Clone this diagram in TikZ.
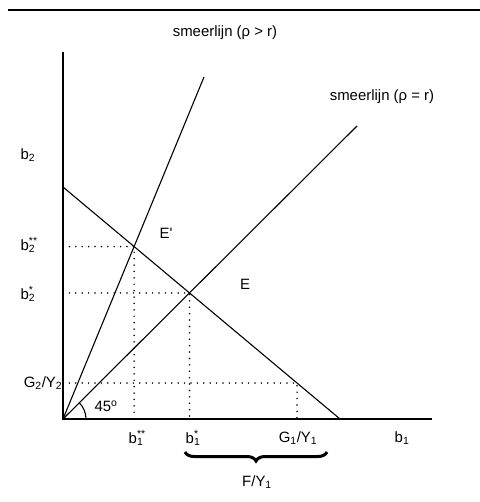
\documentclass[tikz,border=0pt]{standalone}
\usepackage{fontspec}
\setmainfont{Liberation Sans}
\usetikzlibrary{decorations.pathreplacing}
\newcommand{\bss}[2]{b\rlap{\textsuperscript{#2}}\textsubscript{#1}}
\begin{document}
\begin{tikzpicture}[x=1bp,y=-1bp,
  font=\fontsize{15}{17}\selectfont,
  axisline/.style={line width=1.4bp},
  curve/.style={line width=1.1bp},
  dotline/.style={line width=1.7bp, dash pattern=on 0bp off 6.4bp, line cap=round},
  lbl/.style={inner sep=1bp}]
\useasboundingbox (0,0) rectangle (480,502);
% frame line on top
\coordinate (TL) at (8,10);
\coordinate (TR) at (480,10);
\draw[line width=1.3bp] (TL) -- (TR);
% axes
\coordinate (O) at (63,419);
\coordinate (Xend) at (432,419);
\coordinate (Ytop) at (63,52);
\draw[axisline] (Ytop) -- (O) -- (Xend);
% budget line and smeerlijnen
\coordinate (A) at (63,187);
\coordinate (B) at (340,419);
\coordinate (S1) at (204,77);
\coordinate (S2) at (357,126);
\draw[curve] (A) -- (B);
\draw[curve] (O) -- (S1);
\draw[curve] (O) -- (S2);
\coordinate (E) at (intersection of A--B and O--S2);
\coordinate (Ep) at (intersection of A--B and O--S1);
\coordinate (GL) at (63,383);
\coordinate (GR) at (480,383);
\coordinate (G) at (intersection of A--B and GL--GR);
% dotted guides
\draw[dotline] (Ep -| O) -- (Ep) -- (Ep |- O);
\draw[dotline] (E -| O) -- (E) -- (E |- O);
\draw[dotline] (G -| O) -- (G) -- (G |- O);
% 45 degree arc
\draw[line width=1.1bp] (O) ++(23,0) arc[start angle=0, end angle=-45, radius=23];
% brace
\coordinate (BrL) at (185,452);
\coordinate (BrR) at (327,452);
\draw[decorate, decoration={brace, mirror, amplitude=9bp}, line width=3bp] (BrL) -- (BrR);
% labels
\node[lbl] (l1) at (225,33) {smeerlijn (ρ > r)};
\node[lbl] (l2) at (382,97) {smeerlijn (ρ = r)};
\node[lbl] (b2) at (28,155) {b\textsubscript{2}};
\node[lbl] (b2ss) at (28,245) {\bss{2}{**}};
\node[lbl] (b2s) at (28,294) {\bss{2}{*}};
\node[lbl] (g2) at (43,383) {G\textsubscript{2}/Y\textsubscript{2}};
\node[lbl] (ang) at (106,406) {45\textsuperscript{o}};
\node[lbl] (b1ss) at (136,438) {\bss{1}{**}};
\node[lbl] (b1s) at (193,438) {\bss{1}{*}};
\node[lbl] (g1) at (298,438) {G\textsubscript{1}/Y\textsubscript{1}};
\node[lbl] (b1) at (402,438) {b\textsubscript{1}};
\node[lbl] (fy) at (257,482) {F/Y\textsubscript{1}};
\node[lbl] (Eplab) at (166,233) {E\textquotesingle};
\node[lbl] (Elab) at (245,284) {E};
\end{tikzpicture}
\end{document}
